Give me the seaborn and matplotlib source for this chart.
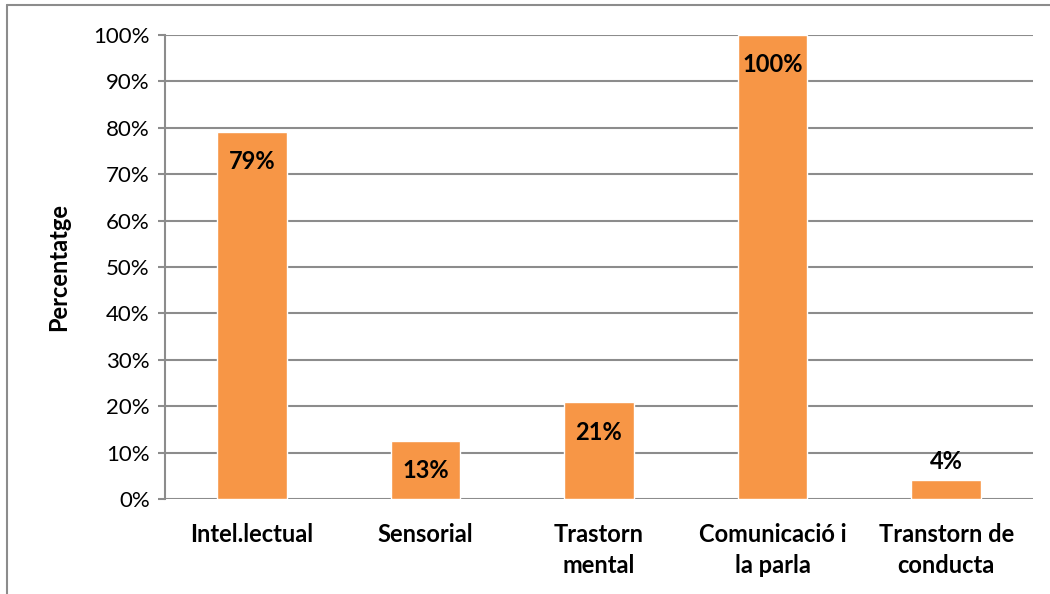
import matplotlib
matplotlib.use("Agg")
import matplotlib.pyplot as plt
import seaborn as sns
import pandas as pd
from matplotlib.lines import Line2D
from matplotlib.ticker import FixedLocator

categories = ["Intel.lectual", "Sensorial", "Trastorn\nmental", "Comunicació i\nla parla", "Transtorn de\nconducta"]
values = [0.792, 0.125, 0.208, 1.0, 0.042]
value_labels = ["79%", "13%", "21%", "100%", "4%"]
yticks = [0, 0.1, 0.2, 0.3, 0.4, 0.5, 0.6, 0.7, 0.8, 0.9, 1.0]
ytick_labels = ["0%", "10%", "20%", "30%", "40%", "50%", "60%", "70%", "80%", "90%", "100%"]
ylabel = "Percentatge"

sns.set_theme(style="white")
plt.rcParams["font.family"] = ["Lato", "DejaVu Sans"]

df = pd.DataFrame({"cat": categories, "val": values})

fig = plt.figure(figsize=(10.5, 5.94), dpi=100)
ax = fig.add_axes([165/1050, 1-499/594, (1033-165)/1050, (499-35)/594])

grid_c = "#8c8c8c"
sns.barplot(data=df, x="cat", y="val", color="#F79646", saturation=1, width=0.4, ax=ax, zorder=3)

ax.set_ylim(0, 1.0)
ax.set_xlim(-0.5, len(categories) - 0.5)
ax.yaxis.set_major_locator(FixedLocator(yticks))
ax.set_yticklabels(ytick_labels, fontsize=16, color="black")
ax.set_axisbelow(True)
ax.yaxis.grid(True, color=grid_c, linewidth=1.5)
ax.xaxis.grid(False)
for s in ["top", "right", "bottom"]:
    ax.spines[s].set_visible(False)
ax.spines["left"].set_color(grid_c)
ax.spines["left"].set_linewidth(1.5)
ax.tick_params(axis="y", left=True, length=5, width=1.5, color=grid_c, pad=6)
ax.tick_params(axis="x", bottom=False, pad=11)
ax.set_xticks(range(len(categories)))
ax.set_xticklabels(categories, fontsize=17, fontweight="bold", color="black", linespacing=1.45, va="top")
ax.set_xlabel("")
ax.set_ylabel(ylabel, fontsize=17, fontweight="bold", color="black")
ax.yaxis.set_label_coords((70-165)/868, 0.5)

for i, (v, lab) in enumerate(zip(values, value_labels)):
    if v < 0.08:
        ax.annotate(lab, (i, v), xytext=(0, 5), textcoords="offset points",
                    ha="center", va="bottom", fontsize=17, fontweight="bold", color="black")
    else:
        ax.annotate(lab, (i, v), xytext=(0, -13), textcoords="offset points",
                    ha="center", va="top", fontsize=17, fontweight="bold", color="black")

# outer chart border (partially cut off)
bc = "#8c8c8c"
fig.add_artist(Line2D([7/1050, 1.0], [1-5/594, 1-5/594], transform=fig.transFigure, color=bc, linewidth=1.5))
fig.add_artist(Line2D([7/1050, 7/1050], [0, 1-5/594], transform=fig.transFigure, color=bc, linewidth=1.5))

fig.savefig("out.png", dpi=100)
